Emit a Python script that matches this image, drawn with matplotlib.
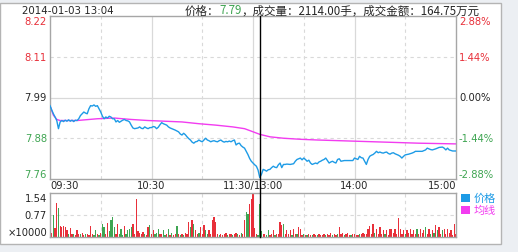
import matplotlib
matplotlib.use("Agg")
import matplotlib.pyplot as plt
from matplotlib.patches import Rectangle
from matplotlib.lines import Line2D
from matplotlib.transforms import blended_transform_factory

# ---- data (minutes since 09:30, lunch break removed: 120 = 11:30/13:00) ----
prev_close = 7.99
cursor_min = 124

price_min = [0, 1, 2, 3, 4, 5, 6, 7, 8, 9, 10, 11, 12, 13, 14, 15, 16, 17, 18, 19,
             20, 21, 22, 23, 24, 25, 26, 27, 28, 29, 30, 31, 32, 33, 34, 35, 36, 37, 38, 39,
             40, 41, 42, 43, 44, 45, 46, 47, 48, 49, 50, 52, 53, 54, 55, 56, 57, 58, 59, 60,
             61, 62, 63, 64, 65, 66, 67, 68, 69, 70, 71, 72, 74, 76, 77, 78, 79, 80, 81, 82,
             83, 84, 85, 86, 87, 88, 89, 90, 91, 92, 93, 94, 95, 96, 97, 98, 99, 100, 101, 102,
             103, 104, 105, 106, 107, 108, 109, 110, 111, 112, 113, 114, 115, 116, 117, 118, 119, 120,
             121, 122, 123, 124, 125, 126, 127, 128, 129, 130, 131, 132, 133, 134, 135, 136, 137, 138,
             139, 140, 142, 144, 145, 146, 147, 148, 149, 150, 151, 152, 153, 154, 155, 156, 157, 158,
             159, 160, 161, 162, 163, 164, 165, 166, 167, 168, 169, 170, 171, 172, 174, 176, 178, 179,
             180, 181, 182, 183, 184, 185, 186, 187, 188, 189, 190, 191, 192, 193, 194, 195, 196, 197,
             198, 199, 200, 201, 202, 203, 204, 205, 206, 207, 208, 209, 210, 211, 212, 214, 215, 216,
             218, 220, 222, 223, 224, 225, 226, 228, 230, 232, 233, 234, 235, 236, 238, 240]
price_val = [7.967, 7.955, 7.944, 7.935, 7.925, 7.902, 7.921, 7.925, 7.922, 7.926, 7.923, 7.927,
             7.923, 7.926, 7.922, 7.926, 7.925, 7.930, 7.939, 7.944, 7.949, 7.946, 7.944, 7.958,
             7.967, 7.966, 7.969, 7.965, 7.967, 7.958, 7.949, 7.937, 7.930, 7.935, 7.932, 7.937,
             7.935, 7.930, 7.930, 7.921, 7.925, 7.920, 7.923, 7.926, 7.928, 7.925, 7.924, 7.921,
             7.912, 7.904, 7.902, 7.904, 7.907, 7.903, 7.902, 7.907, 7.904, 7.902, 7.905, 7.905,
             7.908, 7.907, 7.902, 7.906, 7.913, 7.919, 7.916, 7.914, 7.912, 7.907, 7.904, 7.902,
             7.898, 7.893, 7.887, 7.884, 7.889, 7.885, 7.879, 7.874, 7.870, 7.864, 7.861, 7.865,
             7.866, 7.870, 7.867, 7.865, 7.870, 7.875, 7.870, 7.868, 7.865, 7.867, 7.868, 7.866,
             7.865, 7.868, 7.870, 7.866, 7.864, 7.866, 7.865, 7.867, 7.865, 7.868, 7.870, 7.856,
             7.860, 7.861, 7.854, 7.850, 7.847, 7.838, 7.829, 7.818, 7.810, 7.805,
             7.800, 7.796, 7.785, 7.764, 7.773, 7.787, 7.785, 7.782, 7.786, 7.787, 7.792, 7.796,
             7.793, 7.792, 7.800, 7.805, 7.792, 7.801, 7.801, 7.802, 7.801, 7.803, 7.810, 7.815,
             7.817, 7.819, 7.814, 7.819, 7.815, 7.810, 7.813, 7.805, 7.801, 7.803, 7.805, 7.803,
             7.808, 7.810, 7.813, 7.815, 7.819, 7.812, 7.805, 7.808, 7.810, 7.807, 7.805, 7.815,
             7.817, 7.810, 7.812, 7.812, 7.812, 7.812, 7.819, 7.817, 7.815, 7.824, 7.820, 7.819,
             7.810, 7.801, 7.815, 7.824, 7.827, 7.829, 7.833, 7.838, 7.834, 7.836, 7.834, 7.833,
             7.835, 7.836, 7.832, 7.830, 7.833, 7.834, 7.831, 7.829, 7.827, 7.824, 7.819, 7.824,
             7.828, 7.829, 7.830, 7.833, 7.835, 7.838, 7.838, 7.838, 7.842, 7.847, 7.845, 7.843,
             7.842, 7.845, 7.849, 7.850, 7.847, 7.842, 7.847, 7.842, 7.839, 7.839]

avg_min = [0, 2, 4, 6, 16, 28, 38, 48, 58, 78, 88, 98, 108, 115, 119, 124, 130, 138, 148,
           158, 178, 198, 218, 240]
avg_val = [7.967, 7.940, 7.928, 7.925, 7.925, 7.930, 7.932, 7.928, 7.925, 7.921, 7.916, 7.912,
           7.907, 7.902, 7.895, 7.886, 7.879, 7.875, 7.872, 7.870, 7.867, 7.864, 7.861, 7.859]

# volume per minute (x10000 hands), m = 0..240
volume = [0.35, 0.15, 0.76, 0.30, 1.20, 1.00, 0.37, 0.35, 0.37, 0.35,
          0.25, 0.12, 0.30, 0.10, 0.12, 0.08, 0.26, 0.12, 0.10, 0.15,
          0.08, 0.10, 0.12, 0.06, 0.40, 0.10, 0.08, 0.23, 0.10, 0.06,
          0.15, 0.47, 0.35, 0.12, 0.49, 0.20, 0.58, 0.70, 0.35, 0.10,
          0.47, 0.12, 0.29, 0.08, 0.37, 0.12, 0.23, 0.29, 0.35, 0.47,
          0.10, 1.34, 0.20, 0.15, 0.12, 0.18, 0.10, 0.08, 0.35, 0.41,
          0.12, 0.23, 0.10, 0.15, 0.29, 0.10, 0.12, 0.23, 0.08, 0.12,
          0.29, 0.06, 0.15, 0.08, 0.12, 0.37, 0.10, 0.06, 0.12, 0.08,
          0.15, 0.12, 0.52, 0.35, 0.58, 0.47, 0.23, 0.12, 0.15, 0.35,
          0.12, 0.41, 0.23, 0.12, 0.23, 0.10, 0.58, 0.70, 0.52, 0.12,
          0.08, 0.10, 0.06, 0.12, 0.15, 0.08, 0.10, 0.12, 0.06, 0.10,
          0.15, 0.12, 0.08, 0.15, 0.12, 0.58, 0.87, 0.82, 1.17, 1.34,
          1.57, 0.30, 0.10, 0.08, 1.17, 0.20, 0.10, 0.12, 0.08, 0.23,
          0.06, 0.10, 0.23, 0.08, 0.10, 0.12, 0.52, 0.41, 0.47, 0.10,
          0.23, 0.12, 0.23, 0.08, 0.29, 0.10, 0.12, 0.35, 0.29, 0.08,
          0.10, 0.06, 0.08, 0.10, 0.06, 0.08, 0.10, 0.08, 0.06, 0.10,
          0.08, 0.06, 0.12, 0.08, 0.10, 0.06, 0.15, 0.08, 0.10, 0.08,
          0.12, 0.35, 0.10, 0.15, 0.08, 0.12, 0.15, 0.06, 0.08, 0.12,
          0.10, 0.08, 0.06, 0.10, 0.12, 0.15, 0.10, 0.12, 0.29, 0.37,
          0.12, 0.47, 0.15, 0.29, 0.12, 0.35, 0.10, 0.23, 0.12, 0.23,
          0.08, 0.29, 0.29, 0.15, 0.29, 0.12, 0.68, 0.29, 0.12, 0.23,
          0.10, 0.23, 0.15, 0.29, 0.12, 0.23, 0.10, 0.29, 0.12, 0.29,
          0.15, 0.23, 0.35, 0.10, 0.29, 0.12, 0.23, 0.15, 0.41, 0.23,
          0.35, 0.12, 0.23, 0.29, 0.10, 0.29, 0.15, 0.23, 0.06, 0.47,
          0.12]
# r = up, g = down
vol_dir = ("grgrrgrrrr" "rgrrgrrrgr" "rgrrrrggrg" "rggrrgggg" "r"
           "rgggrggggr" "rrrrrrgrrg" "rrgggrrggr" "grgrrgrgrg"
           "rrrgrgrrgr" "rrggrrrrrr" "grrrrgrrgr" "rgrgrrggrr"
           "rrrgggrrgg" "rrrgrrrrgr" "rrrgrrgrrr" "grgrrgrrgr"
           "rrrgrrrgrr" "grrrgrrrgr" "rrrgrrrrrr" "rrgrrrrrgr"
           "rrrrrrrrrr" "grrrrrrgrr" "rrgrrgrgrg" "rrgrr" "r")
vol_dir = (vol_dir + "r" * 241)[:241]

time_ticks = [0, 60, 120, 180, 240]
time_labels = ["09:30", "10:30", "11:30/13:00", "14:00", "15:00"]
pct_levels = [0.0288, 0.0144, 0.0, -0.0144, -0.0288]
price_labels = ["8.22", "8.11", "7.99", "7.88", "7.76"]
pct_labels = ["2.88%", "1.44%", "0.00%", "-1.44%", "-2.88%"]
vol_ticks = [1.54, 0.77, 0.0]
vol_labels = ["1.54", "0.77", "\u00d710000"]

RED = "#e8303a"
GREEN = "#3fa552"
BLUE = "#1d9be6"
MAGENTA = "#f23cf0"
GRID = "#d9d9d9"
SPINE = "#a6a6a6"
TXT = "#262626"

W, H = 518, 253
plt.rcParams["font.family"] = ["DejaVu Sans", "Noto Sans CJK SC"]
fig = plt.figure(figsize=(W / 100, H / 100), dpi=100, facecolor="#eceff3")

# white card with grey frame (behind the axes)
fig.patches.append(Rectangle((0, 1 - 245 / H), 501 / W, 241 / H, transform=fig.transFigure,
                             facecolor="white", edgecolor="#b4b4b4", linewidth=1, zorder=-5))


def fx(px):
    return px / W


def fy(py):
    return 1 - py / H


ax = fig.add_axes([fx(50), fy(180), fx(406), 163 / H])
axv = fig.add_axes([fx(50), fy(238), fx(406), 44 / H])

lo, hi = prev_close * (1 - 0.0288), prev_close * (1 + 0.0288)
for a in (ax, axv):
    a.set_xlim(0, 240)
    a.set_xticks([])
    a.set_yticks([])
    for s in a.spines.values():
        s.set_color(SPINE)
        s.set_linewidth(1)
    for m in (30, 90, 150, 210):
        a.axvline(m, color=GRID, lw=0.8, ls=(0, (3, 3)), zorder=0)
    for m in (60, 120, 180):
        a.axvline(m, color=GRID, lw=0.9, zorder=0)

ax.set_ylim(lo, hi)
for p in pct_levels[1:-1]:
    ax.axhline(prev_close * (1 + p), color=GRID, lw=0.9 if p == 0 else 0.8,
               ls="-" if p == 0 else (0, (3, 3)), zorder=0)

ax.plot(avg_min, avg_val, color=MAGENTA, lw=1.0, zorder=2)
ax.plot(price_min, price_val, color=BLUE, lw=1.0, zorder=3)

axv.set_ylim(0, 1.54)
axv.axhline(0.77, color=GRID, lw=0.8, ls=(0, (3, 3)), zorder=0)
vcol = [RED if d == "r" else GREEN for d in vol_dir]
axv.bar(range(len(volume)), volume, width=0.75, color=vcol, linewidth=0, zorder=2)

# cursor line through both panels
tr = blended_transform_factory(ax.transData, fig.transFigure)
fig.add_artist(Line2D([cursor_min, cursor_min], [fy(238), fy(17)], transform=tr,
                      color="black", lw=1.0, zorder=5))

# price / percent labels
lab_col = [RED, RED, TXT, GREEN, GREEN]
ty = blended_transform_factory(fig.transFigure, ax.transData)
for p, pl, cl, c in zip(pct_levels, price_labels, pct_labels, lab_col):
    y = prev_close * (1 + p)
    va = "center"
    if p > 0.02:
        va = "top"
    elif p < -0.02:
        va = "bottom"
    ax.text(fx(47), y, pl, transform=ty, ha="right", va=va, color=c, fontsize=7.2)
    ax.text(fx(459), y, cl, transform=ty, ha="left", va=va, color=c, fontsize=7.2)

tvy = blended_transform_factory(fig.transFigure, axv.transData)
for v, vl in zip(vol_ticks, vol_labels):
    va = "top" if v > 1 else ("bottom" if v == 0 else "center")
    axv.text(fx(47), v, vl, transform=tvy, ha="right", va=va, color=TXT, fontsize=7.2)

tx = blended_transform_factory(ax.transData, fig.transFigure)
for m, tl in zip(time_ticks, time_labels):
    ha = "left" if m == 0 else ("right" if m == 240 else "center")
    ax.text(m, fy(186), tl, transform=tx, ha=ha, va="center", color=TXT, fontsize=7.2)

# header
fig.text(fx(22), fy(11), "2014-01-03 13:04", ha="left", va="center", color=TXT, fontsize=7.4)
renderer = fig.canvas.get_renderer()
pieces = [("价格：", TXT), ("7.79", GREEN), ("，成交量：2114.00手，成交金额：164.75万元", TXT)]
x0 = fx(185)
for s, c in pieces:
    t = fig.text(x0, fy(11), s, ha="left", va="center", color=c, fontsize=8.3,
                 family=["Noto Sans CJK SC", "DejaVu Sans"])
    x0 += t.get_window_extent(renderer).width / W

# legend
for i, (name, c) in enumerate([("价格", BLUE), ("均线", MAGENTA)]):
    yc = 199 + i * 12
    fig.patches.append(Rectangle((fx(461), fy(yc + 4)), fx(9), 8 / H, transform=fig.transFigure,
                                 facecolor=c, edgecolor="none"))
    fig.text(fx(474), fy(yc), name, ha="left", va="center", color=c, fontsize=8,
             family=["Noto Sans CJK SC", "DejaVu Sans"])

fig.savefig("out.png", dpi=100, facecolor=fig.get_facecolor())
